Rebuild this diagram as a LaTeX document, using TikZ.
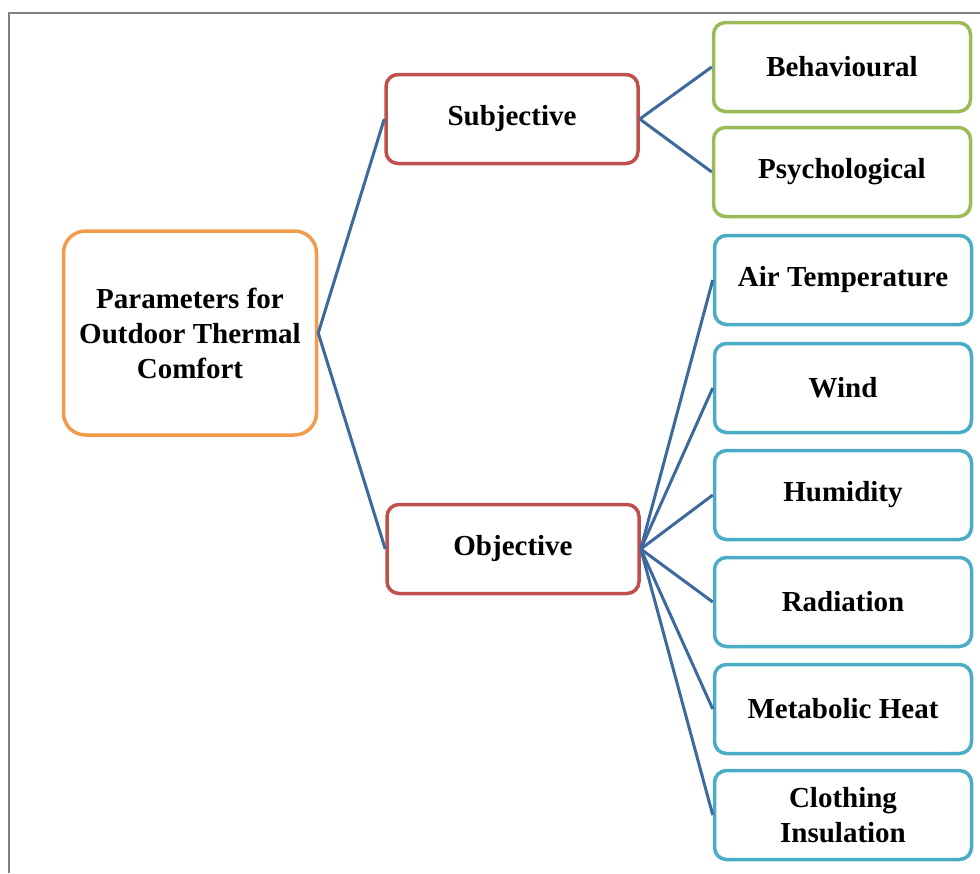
\documentclass[tikz,border=0pt]{standalone}
\usepackage{fontspec}
\setmainfont{Liberation Serif}
\definecolor{rootorange}{HTML}{F29B4B}
\definecolor{midred}{HTML}{C0504D}
\definecolor{leafgreen}{HTML}{9BBB59}
\definecolor{leafcyan}{HTML}{4BACC6}
\definecolor{linkblue}{HTML}{3D6A9E}
\tikzset{
  box/.style={draw, line width=3.5pt, rounded corners=12pt, fill=white, align=center,
    inner sep=0pt, minimum width=257pt, minimum height=89pt,
    font=\fontsize{29}{35}\selectfont\bfseries},
  link/.style={draw=linkblue, line width=3pt}
}
\begin{document}
\begin{tikzpicture}[x=1pt,y=-1pt]
            \useasboundingbox (0,0) rectangle (980,873);
            \draw[gray, line width=1.5pt] (980,13) -- (9,13) -- (9,873);

            \node[box, draw=rootorange, rounded corners=22pt, minimum width=253pt, minimum height=204pt] (root) at (190,333) {Parameters for\\Outdoor Thermal\\Comfort};

            \node[box, draw=midred, minimum width=252pt] (sub) at (512,119) {Subjective};
            \node[box, draw=midred, minimum width=252pt] (obj) at (513,549) {Objective};

            \node[box, draw=leafgreen] (beh) at (842,67) {Behavioural};
            \node[box, draw=leafgreen] (psy) at (842,172) {Psychological};

            \node[box, draw=leafcyan] (air) at (843,280) {Air Temperature};
            \node[box, draw=leafcyan] (wind) at (843,388) {Wind};
            \node[box, draw=leafcyan] (hum) at (843,495) {Humidity};
            \node[box, draw=leafcyan] (rad) at (843,602) {Radiation};
            \node[box, draw=leafcyan] (met) at (843,709) {Metabolic Heat};
            \node[box, draw=leafcyan] (clo) at (843,815) {Clothing\\Insulation};

            \draw[link] (root.east) -- (sub.west);
            \draw[link] (root.east) -- (obj.west);
            \draw[link] (sub.east) -- (beh.west);
            \draw[link] (sub.east) -- (psy.west);
            \foreach \leaf in {air, wind, hum, rad, met, clo}
                \draw[link] (obj.east) -- (\leaf.west);
        \end{tikzpicture}
\end{document}
